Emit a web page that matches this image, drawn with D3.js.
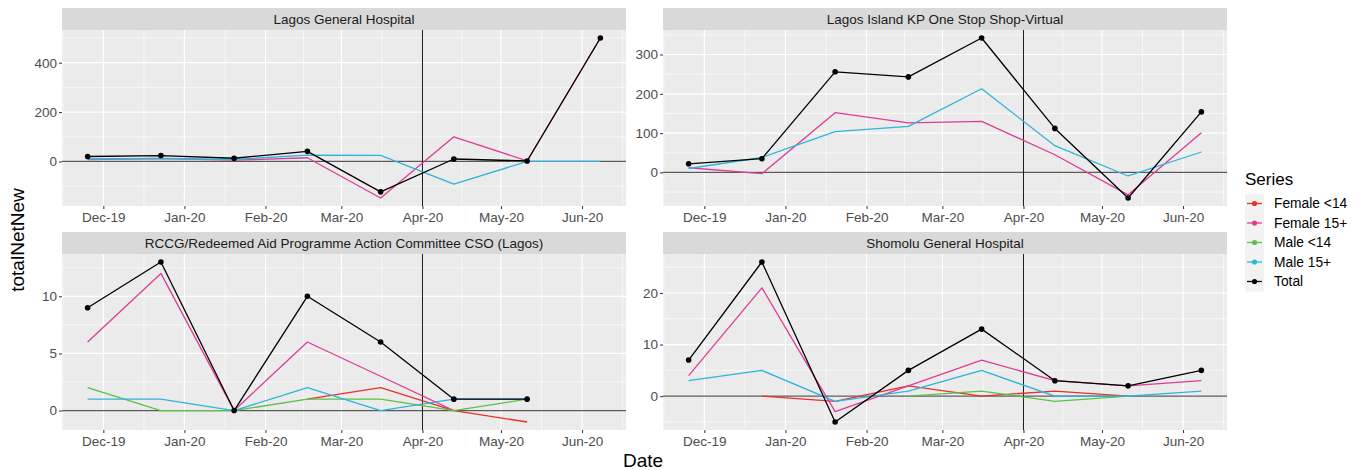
<!DOCTYPE html>
<html>
<head>
<meta charset="utf-8">
<script src="https://cdn.jsdelivr.net/npm/d3@7"></script>
<style>
  body { margin: 0; background: #fff; }
  svg { display: block; font-family: "Liberation Sans", Arial, sans-serif; }
</style>
</head>
<body>
<svg width="1366" height="470"></svg>
<script>
// report dates (4-weekly)
const dates = ['2019-11-25', '2019-12-23', '2020-01-20', '2020-02-17', '2020-03-16', '2020-04-13', '2020-05-11', '2020-06-08'];
const seriesNames = ['Female <14', 'Female 15+', 'Male <14', 'Male 15+', 'Total'];
const seriesColors = ['#E8302C', '#DE3C96', '#5BC148', '#2EB4DC', '#000000'];
const facilities = [
  'Lagos General Hospital',
  'Lagos Island KP One Stop Shop-Virtual',
  'RCCG/Redeemed Aid Programme Action Committee CSO (Lagos)',
  'Shomolu General Hospital'
];
const monthTicks = ['2019-12-01', '2020-01-01', '2020-02-01', '2020-03-01', '2020-04-01', '2020-05-01', '2020-06-01'];
const cutoffDate = '2020-04-01';

// Lagos General Hospital
const lghFemale14 = [null, null, null, null, null, null, null, null];
const lghFemale15 = [8, 12, 5, 15, -148, 100, 2, 500];
const lghMale14 = [null, null, null, null, null, null, null, null];
const lghMale15 = [10, 12, 8, 26, 25, -92, 0, 0];
const lghTotal = [20, 24, 13, 41, -123, 10, 2, 500];
const lghTicks = [0, 200, 400];

// Lagos Island KP One Stop Shop-Virtual
const kpFemale14 = [null, null, null, null, null, null, null, null];
const kpFemale15 = [12, -3, 152, 126, 130, 45, -57, 101];
const kpMale14 = [null, null, null, null, null, null, null, null];
const kpMale15 = [10, 38, 104, 117, 213, 68, -9, 52];
const kpTotal = [22, 35, 256, 243, 342, 112, -65, 154];
const kpTicks = [0, 100, 200, 300];

// RCCG/Redeemed Aid Programme Action Committee CSO (Lagos)
const rccgFemale14 = [null, null, null, 1, 2, 0, -1, null];
const rccgFemale15 = [6, 12, 0, 6, 3, 0, null, null];
const rccgMale14 = [2, 0, 0, 1, 1, 0, 1, null];
const rccgMale15 = [1, 1, 0, 2, 0, 1, 1, null];
const rccgTotal = [9, 13, 0, 10, 6, 1, 1, null];
const rccgTicks = [0, 5, 10];

// Shomolu General Hospital
const shFemale14 = [null, 0, -1, 2, 0, 1, 0, null];
const shFemale15 = [4, 21, -3, 2, 7, 3, 2, 3];
const shMale14 = [null, null, null, 0, 1, -1, 0, null];
const shMale15 = [3, 5, -1, 1, 5, 0, 0, 1];
const shTotal = [7, 26, -5, 5, 13, 3, 2, 5];
const shTicks = [0, 10, 20];

const panelValues = [
  [lghFemale14, lghFemale15, lghMale14, lghMale15, lghTotal],
  [kpFemale14, kpFemale15, kpMale14, kpMale15, kpTotal],
  [rccgFemale14, rccgFemale15, rccgMale14, rccgMale15, rccgTotal],
  [shFemale14, shFemale15, shMale14, shMale15, shTotal]
];
const panelTicks = [lghTicks, kpTicks, rccgTicks, shTicks];

const parse = d3.timeParse('%Y-%m-%d');
const dateVals = dates.map(parse);

const svg = d3.select('svg');

// layout
const cols = [{ x0: 62, x1: 626 }, { x0: 663, x1: 1227 }];
const rows = [{ s0: 8, y0: 30, y1: 206 }, { s0: 232, y0: 254, y1: 430 }];

// shared x scale with ggplot-like 5% expansion
const [dMin, dMax] = d3.extent(dateVals);
const span = dMax - dMin;
const x = d3.scaleTime()
  .domain([new Date(+dMin - span * 0.05), new Date(+dMax + span * 0.05)]);

const majorX = monthTicks.map(parse);
const minorX = [];
for (let i = 0; i < majorX.length - 1; i++) minorX.push(new Date((+majorX[i] + +majorX[i + 1]) / 2));
minorX.unshift(new Date(+majorX[0] - (majorX[1] - majorX[0]) / 2));
minorX.push(new Date(+majorX[majorX.length - 1] + (majorX[1] - majorX[0]) / 2));

const fmt = d3.timeFormat('%b-%y');

facilities.forEach((name, p) => {
  const col = cols[p % 2];
  const row = rows[Math.floor(p / 2)];
  const xs = x.copy().range([col.x0, col.x1]);

  const values = panelValues[p];
  const all = values.flat().filter((v) => v != null);
  const [vMin, vMax] = d3.extent(all);
  const pad = (vMax - vMin) * 0.05;
  const y = d3.scaleLinear().domain([vMin - pad, vMax + pad]).range([row.y1, row.y0]);

  const g = svg.append('g');

  // strip
  g.append('rect')
    .attr('x', col.x0).attr('y', row.s0)
    .attr('width', col.x1 - col.x0).attr('height', row.y0 - row.s0)
    .attr('fill', '#D9D9D9');
  g.append('text')
    .attr('x', (col.x0 + col.x1) / 2)
    .attr('y', (row.s0 + row.y0) / 2)
    .attr('dy', '0.36em')
    .attr('text-anchor', 'middle')
    .attr('font-size', 13.5)
    .attr('fill', '#1A1A1A')
    .text(name);

  // panel
  g.append('rect')
    .attr('x', col.x0).attr('y', row.y0)
    .attr('width', col.x1 - col.x0).attr('height', row.y1 - row.y0)
    .attr('fill', '#EBEBEB');

  const ticks = panelTicks[p];
  const step = ticks[1] - ticks[0];
  const minorY = [];
  for (let v = ticks[0] - step * 3 + step / 2; v < vMax + pad + step; v += step) {
    if (y(v) <= row.y1 && y(v) >= row.y0) minorY.push(v);
  }

  const grid = g.append('g').attr('stroke', '#FFFFFF');
  grid.selectAll('.ymin').data(minorY).enter().append('line')
    .attr('x1', col.x0).attr('x2', col.x1)
    .attr('y1', (d) => y(d)).attr('y2', (d) => y(d))
    .attr('stroke-width', 0.6);
  grid.selectAll('.xmin').data(minorX.filter((d) => xs(d) > col.x0 && xs(d) < col.x1)).enter().append('line')
    .attr('y1', row.y0).attr('y2', row.y1)
    .attr('x1', (d) => xs(d)).attr('x2', (d) => xs(d))
    .attr('stroke-width', 0.6);
  grid.selectAll('.ymaj').data(ticks).enter().append('line')
    .attr('x1', col.x0).attr('x2', col.x1)
    .attr('y1', (d) => y(d)).attr('y2', (d) => y(d))
    .attr('stroke-width', 1.2);
  grid.selectAll('.xmaj').data(majorX).enter().append('line')
    .attr('y1', row.y0).attr('y2', row.y1)
    .attr('x1', (d) => xs(d)).attr('x2', (d) => xs(d))
    .attr('stroke-width', 1.2);

  // axes
  const yAxis = g.append('g')
    .attr('transform', `translate(${col.x0},0)`)
    .call(d3.axisLeft(y).tickValues(ticks).tickSize(3).tickPadding(2));
  const xAxis = g.append('g')
    .attr('transform', `translate(0,${row.y1})`)
    .call(d3.axisBottom(xs).tickValues(majorX).tickFormat(fmt).tickSize(3).tickPadding(3));
  [yAxis, xAxis].forEach((ax) => {
    ax.select('.domain').remove();
    ax.selectAll('line').attr('stroke', '#333333');
    ax.selectAll('text')
      .attr('fill', '#4D4D4D')
      .attr('font-size', 13.5)
      .attr('font-family', '"Liberation Sans", Arial, sans-serif');
  });

  // reference lines
  g.append('line')
    .attr('x1', col.x0).attr('x2', col.x1)
    .attr('y1', y(0)).attr('y2', y(0))
    .attr('stroke', '#595959').attr('stroke-width', 1.3);
  const cx = xs(parse(cutoffDate));
  g.append('line')
    .attr('x1', cx).attr('x2', cx)
    .attr('y1', row.y0).attr('y2', row.y1)
    .attr('stroke', '#1A1A1A').attr('stroke-width', 1);

  // series lines
  const line = d3.line()
    .defined((d) => d.v != null)
    .x((d) => xs(d.date))
    .y((d) => y(d.v));

  seriesNames.forEach((s, i) => {
    const pts = values[i].map((v, j) => ({ date: dateVals[j], v }));
    g.append('path')
      .datum(pts.filter((d) => d.v != null))
      .attr('d', line)
      .attr('fill', 'none')
      .attr('stroke', seriesColors[i])
      .attr('stroke-width', 1.3)
      .attr('stroke-linejoin', 'round');
  });

  const totals = values[4].map((v, j) => ({ date: dateVals[j], v })).filter((d) => d.v != null);
  g.selectAll('.pt').data(totals).enter().append('circle')
    .attr('cx', (d) => xs(d.date))
    .attr('cy', (d) => y(d.v))
    .attr('r', 2.8)
    .attr('fill', '#000');
});

// axis titles
svg.append('text')
  .attr('x', 643).attr('y', 467)
  .attr('text-anchor', 'middle')
  .attr('font-size', 19)
  .attr('fill', '#000')
  .text('Date');
svg.append('text')
  .attr('transform', 'translate(24,240) rotate(-90)')
  .attr('text-anchor', 'middle')
  .attr('font-size', 19)
  .attr('fill', '#000')
  .text('totalNetNew');

// legend
const legend = svg.append('g').attr('transform', 'translate(1245,0)');
legend.append('text')
  .attr('x', 0).attr('y', 179)
  .attr('dy', '0.36em')
  .attr('font-size', 17)
  .attr('fill', '#000')
  .text('Series');
const keys = legend.selectAll('.key').data(seriesNames).enter().append('g')
  .attr('transform', (d, i) => `translate(0,${194 + i * 19.5})`);
keys.append('rect')
  .attr('width', 19).attr('height', 19.5)
  .attr('fill', '#F2F2F2');
keys.append('line')
  .attr('x1', 2).attr('x2', 17)
  .attr('y1', 9.5).attr('y2', 9.5)
  .attr('stroke', (d, i) => seriesColors[i])
  .attr('stroke-width', 1.3);
keys.append('circle')
  .attr('cx', 9.5).attr('cy', 9.5).attr('r', 2.6)
  .attr('fill', (d, i) => seriesColors[i]);
keys.append('text')
  .attr('x', 29).attr('y', 9.5)
  .attr('dy', '0.36em')
  .attr('font-size', 13.8)
  .attr('fill', '#000')
  .text((d) => d);
</script>
</body>
</html>
